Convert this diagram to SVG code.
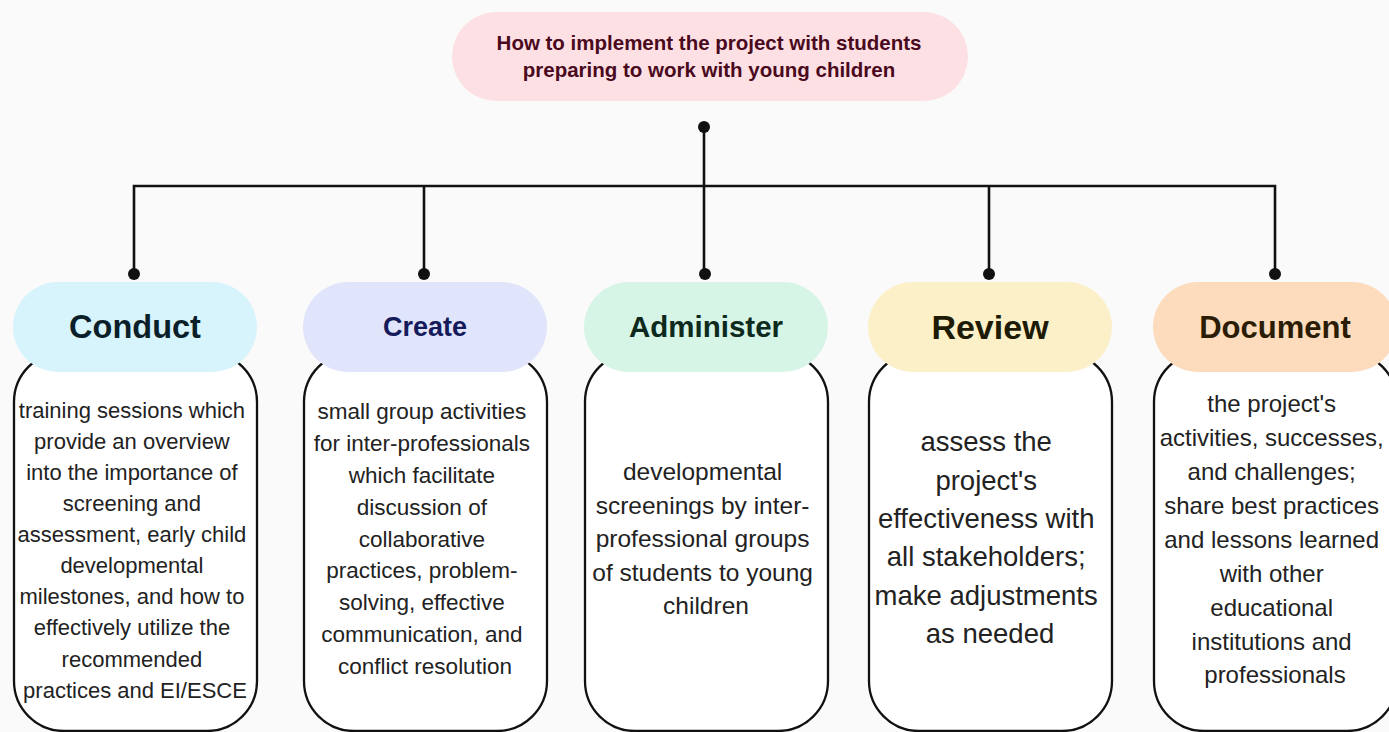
<svg xmlns="http://www.w3.org/2000/svg" width="1389" height="732" viewBox="0 0 1389 732">
  <style>
    .body { fill: #ffffff; stroke: #111111; stroke-width: 2.3; }
    .conn { fill: none; stroke: #111111; stroke-width: 2.6; }
    .dot { fill: #111111; }
    .hdr { font-family: "Liberation Sans", Arial, sans-serif; font-weight: bold; text-anchor: middle; }
    .txt { font-family: "Liberation Sans", Arial, sans-serif; fill: #222222; text-anchor: middle; }
  </style>
  <rect x="0" y="0" width="1389" height="732" fill="#fafafa"/>

  <g id="title">
    <rect x="452" y="12" width="516" height="89" rx="44.5" fill="#fde0e3"/>
    <text class="hdr" x="709" y="50" font-size="20.5" fill="#4a0a1e">How to implement the project with students</text>
    <text class="hdr" x="709" y="77" font-size="20.5" fill="#4a0a1e">preparing to work with young children</text>
  </g>

  <g id="connectors">
    <path class="conn" d="M704 127 V274"/>
    <path class="conn" d="M134 274 V186 H1275 V274"/>
    <path class="conn" d="M424 186 V274"/>
    <path class="conn" d="M989 186 V274"/>
    <circle class="dot" cx="704" cy="127" r="6"/>
    <circle class="dot" cx="134" cy="274" r="6"/>
    <circle class="dot" cx="424" cy="274" r="6"/>
    <circle class="dot" cx="705" cy="274" r="6"/>
    <circle class="dot" cx="989" cy="274" r="6"/>
    <circle class="dot" cx="1275" cy="274" r="6"/>
  </g>

  <g id="conduct">
    <rect class="body" x="14" y="352" width="243" height="379" rx="50"/>
    <rect x="13" y="282" width="244" height="90" rx="45" fill="#d7f3fb"/>
    <text class="hdr" x="135" y="338" font-size="32.5" fill="#0b1f2a">Conduct</text>
    <text class="txt" font-size="22" x="135">
      <tspan x="135" y="418">training sessions which</tspan>
      <tspan x="135" y="449">provide an overview</tspan>
      <tspan x="135" y="480">into the importance of</tspan>
      <tspan x="135" y="511">screening and</tspan>
      <tspan x="135" y="542">assessment, early child</tspan>
      <tspan x="135" y="573">developmental</tspan>
      <tspan x="135" y="604">milestones, and how to</tspan>
      <tspan x="135" y="635">effectively utilize the</tspan>
      <tspan x="135" y="667">recommended</tspan>
      <tspan x="135" y="698">practices and EI/ESCE</tspan>
    </text>
  </g>

  <g id="create">
    <rect class="body" x="304" y="352" width="243" height="379" rx="50"/>
    <rect x="303" y="282" width="244" height="90" rx="45" fill="#e1e5fb"/>
    <text class="hdr" x="425" y="336" font-size="27" fill="#141a5a">Create</text>
    <text class="txt" font-size="22.5" x="425">
      <tspan x="425" y="419">small group activities</tspan>
      <tspan x="425" y="451">for inter-professionals</tspan>
      <tspan x="425" y="483">which facilitate</tspan>
      <tspan x="425" y="515">discussion of</tspan>
      <tspan x="425" y="547">collaborative</tspan>
      <tspan x="425" y="578">practices, problem-</tspan>
      <tspan x="425" y="610">solving, effective</tspan>
      <tspan x="425" y="642">communication, and</tspan>
      <tspan x="425" y="674">conflict resolution</tspan>
    </text>
  </g>

  <g id="administer">
    <rect class="body" x="585" y="352" width="243" height="379" rx="50"/>
    <rect x="584" y="282" width="244" height="90" rx="45" fill="#d6f5e7"/>
    <text class="hdr" x="706" y="337" font-size="29.5" fill="#0d2a1c">Administer</text>
    <text class="txt" font-size="24.5" x="706">
      <tspan x="706" y="480">developmental</tspan>
      <tspan x="706" y="514">screenings by inter-</tspan>
      <tspan x="706" y="547">professional groups</tspan>
      <tspan x="706" y="581">of students to young</tspan>
      <tspan x="706" y="614">children</tspan>
    </text>
  </g>

  <g id="review">
    <rect class="body" x="869" y="352" width="243" height="379" rx="50"/>
    <rect x="868" y="282" width="244" height="90" rx="45" fill="#fcf0c9"/>
    <text class="hdr" x="990" y="339" font-size="34" fill="#1d1a05">Review</text>
    <text class="txt" font-size="27.5" x="990">
      <tspan x="990" y="451">assess the</tspan>
      <tspan x="990" y="490">project's</tspan>
      <tspan x="990" y="528">effectiveness with</tspan>
      <tspan x="990" y="566">all stakeholders;</tspan>
      <tspan x="990" y="605">make adjustments</tspan>
      <tspan x="990" y="643">as needed</tspan>
    </text>
  </g>

  <g id="document">
    <rect class="body" x="1154" y="352" width="243" height="379" rx="50"/>
    <rect x="1153" y="282" width="244" height="90" rx="45" fill="#fcdcbd"/>
    <text class="hdr" x="1275" y="338" font-size="31" fill="#2b1c05">Document</text>
    <text class="txt" font-size="24" x="1275">
      <tspan x="1275" y="412">the project's</tspan>
      <tspan x="1275" y="446">activities, successes,</tspan>
      <tspan x="1275" y="480">and challenges;</tspan>
      <tspan x="1275" y="514">share best practices</tspan>
      <tspan x="1275" y="548">and lessons learned</tspan>
      <tspan x="1275" y="582">with other</tspan>
      <tspan x="1275" y="616">educational</tspan>
      <tspan x="1275" y="650">institutions and</tspan>
      <tspan x="1275" y="683">professionals</tspan>
    </text>
  </g>
</svg>
